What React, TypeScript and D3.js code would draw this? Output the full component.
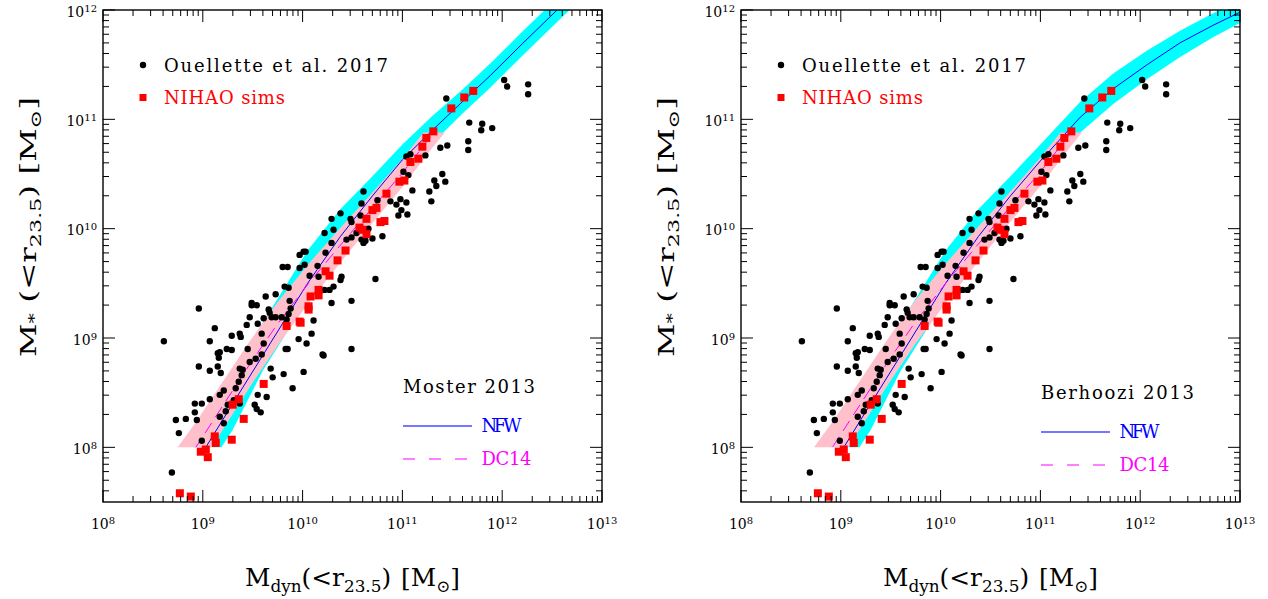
import * as d3 from "d3";
import React from "react";

// Ouellette et al. 2017 galaxies, log10 of mass in Msun
const ouelletteLogMdyn = [
  8.61, 8.96, 9.12, 9.07, 8.96, 9.07, 9.15, 9.17, 9.16, 9.24, 9.29, 9.29, 9.37, 9.38, 9.49, 9.49,
  9.54, 9.63, 9.73, 9.47, 9.44, 9.55, 9.59, 9.61, 9.66, 9.67, 9.69, 9.73, 9.79, 9.84, 9.86, 9.88,
  9.87, 9.86, 9.82, 9.8, 9.85, 9.97, 9.97, 10.01, 10.03, 10.02, 10.07, 10.15, 10.16, 10.22, 10.23,
  10.29, 10.31, 10.29, 10.38, 10.39, 10.38, 10.31, 10.27, 10.22, 10.29, 10.11, 10.09, 10.04, 9.96,
  10.01, 9.9, 9.81, 9.85, 9.83, 9.68, 9.7, 9.55, 9.64, 9.52, 9.54, 9.58, 9.45, 9.53, 9.61, 9.59,
  9.47, 9.37, 9.4, 9.39, 9.36, 9.33, 9.31, 9.37, 9.25, 9.23, 9.21, 9.17, 9.17, 9.21, 9.18, 9.15,
  9.07, 8.99, 8.92, 8.92, 8.94, 8.83, 8.73, 8.76, 8.99, 8.69, 10.2, 10.21, 10.49, 10.49, 10.73,
  10.61, 10.59, 10.58, 10.48, 10.49, 10.54, 10.49, 10.44, 10.59, 10.61, 10.63, 10.66, 10.7, 10.8,
  10.79, 10.75, 10.88, 10.94, 10.98, 10.96, 10.99, 11.04, 11.05, 11.01, 11.06, 11.1, 11.04, 11.08,
  11.23, 11.27, 11.29, 11.32, 11.34, 11.4, 11.43, 11.38, 11.45, 11.44, 11.66, 11.66, 11.67, 11.8,
  11.79, 11.9, 12.02, 12.05, 12.26, 12.26,
];
const ouelletteLogMstar = [
  8.97, 9.27, 9.09, 8.97, 8.74, 8.7, 8.86, 8.87, 8.82, 8.9, 8.89, 9.02, 9.04, 9.01, 9.32, 9.3,
  9.3, 9.38, 9.4, 9.19, 9.12, 9.13, 9.04, 9.18, 9.26, 9.23, 9.19, 9.19, 9.19, 9.17, 9.22, 9.27,
  9.34, 9.46, 9.47, 9.65, 9.65, 9.64, 9.76, 9.79, 9.79, 9.67, 9.57, 9.66, 9.56, 9.96, 9.78,
  10.09, 9.99, 9.87, 10.14, 9.56, 9.53, 9.47, 9.44, 9.44, 9.32, 9.16, 9.04, 8.95, 8.99,
  8.69, 8.54, 8.67, 8.9, 8.9, 8.72, 8.64, 8.48, 8.46, 8.39, 8.35, 8.32, 8.9, 8.81, 8.95, 8.85,
  8.78, 8.72, 8.71, 8.66, 8.6, 8.54, 8.43, 8.4, 8.39, 8.33, 8.22, 8.28, 8.48, 8.52, 8.68, 8.74,
  8.44, 8.4, 8.4, 8.32, 8.25, 8.26, 8.25, 8.13, 8.06, 7.77, 8.85, 8.84, 9.34, 8.9, 9.54,
  10.34, 10.23, 10.12, 10.09, 10.06, 9.96, 9.92, 9.9, 9.9, 9.87, 9.89, 10.0, 9.91, 9.93,
  10.06, 10.26, 10.25, 10.22, 10.27, 10.12, 10.17, 10.24, 10.13, 10.52, 10.49, 10.35, 10.66, 10.68,
  10.67, 10.34, 10.25, 10.44, 10.39, 10.5, 10.43, 10.74, 10.76, 11.19, 10.8, 10.72, 10.97, 10.96,
  10.9, 10.92, 11.36, 11.3, 11.32, 11.23,
];

// NIHAO simulations
const nihaoLogMdyn = [
  11.71, 11.62, 11.49, 11.31, 11.24, 11.2, 11.16, 11.08, 11.02, 10.97, 10.84, 10.74, 10.7, 10.82,
  10.78, 10.64, 10.57, 10.6, 10.64, 10.43, 10.35, 10.27, 10.23, 10.16, 10.16, 10.08, 10.06, 10.06,
  9.97, 9.98, 9.84, 9.61, 9.36, 9.3, 9.41, 9.12, 9.13, 9.29, 8.98, 9.03, 9.05, 8.77, 8.88,
];
const nihaoLogMstar = [
  11.26, 11.2, 11.1, 10.89, 10.83, 10.75, 10.64, 10.61, 10.44, 10.43, 10.32, 10.19, 10.17, 10.07,
  10.06, 10.09, 10.01, 9.99, 9.95, 9.8, 9.71, 9.57, 9.61, 9.44, 9.39, 9.38, 9.29, 9.26,
  9.15, 9.14, 9.11, 8.58, 8.44, 8.39, 8.26, 8.1, 8.04, 8.07, 7.96, 7.98, 7.91, 7.58, 7.55,
];

// abundance matching predictions (log10 Mdyn grid, log10 M* line, band edges)
const mosterNfwGrid = [8.9, 9.03, 9.3, 9.6, 10.05, 10.38, 10.7, 11.0, 11.3, 11.6, 11.88, 12.2, 12.55, 12.8];
const mosterNfw = [7.82, 8.0, 8.4, 8.84, 9.5, 9.93, 10.3, 10.63, 10.9, 11.16, 11.4, 11.69, 12.0, 12.22];
const mosterNfwHi = [8.04, 8.22, 8.68, 9.14, 9.8, 10.18, 10.48, 10.77, 11.03, 11.27, 11.51, 11.8, 12.11, 12.33];
const mosterNfwLo = [7.6, 7.78, 8.16, 8.7, 9.35, 9.76, 10.15, 10.5, 10.78, 11.05, 11.29, 11.58, 11.89, 12.11];

const behrooziNfwGrid = [8.9, 9.03, 9.3, 9.6, 10.05, 10.38, 10.7, 11.0, 11.4, 11.73, 12.07, 12.4, 12.73, 13.0, 13.2];
const behrooziNfw = [7.82, 8.0, 8.4, 8.84, 9.5, 9.93, 10.3, 10.62, 11.02, 11.28, 11.5, 11.7, 11.86, 11.98, 12.06];
const behrooziNfwHi = [8.04, 8.22, 8.68, 9.14, 9.8, 10.18, 10.48, 10.77, 11.16, 11.42, 11.63, 11.81, 11.97, 12.09, 12.17];
const behrooziNfwLo = [7.6, 7.78, 8.16, 8.7, 9.35, 9.76, 10.15, 10.47, 10.88, 11.14, 11.37, 11.57, 11.75, 11.88, 11.95];

const dc14Grid = [8.7, 8.93, 9.2, 9.47, 9.75, 10.06, 10.37, 10.68, 11.0, 11.3, 11.5];
const mosterDc14 = [7.7, 8.0, 8.38, 8.76, 9.13, 9.5, 9.84, 10.17, 10.51, 10.86, 11.08];
const mosterDc14Hi = [7.94, 8.23, 8.6, 8.97, 9.33, 9.68, 10.0, 10.31, 10.64, 10.98, 11.2];
const mosterDc14Lo = [7.46, 7.77, 8.16, 8.55, 8.93, 9.32, 9.68, 10.03, 10.38, 10.74, 10.96];
const behrooziDc14 = [7.72, 8.02, 8.4, 8.78, 9.15, 9.51, 9.85, 10.18, 10.52, 10.87, 11.09];
const behrooziDc14Hi = [7.96, 8.25, 8.62, 8.99, 9.35, 9.69, 10.01, 10.32, 10.65, 10.99, 11.21];
const behrooziDc14Lo = [7.48, 7.79, 8.18, 8.57, 8.95, 9.33, 9.69, 10.04, 10.39, 10.75, 10.97];

const dc14TopLog = 10.88;

const FONT = "'DejaVu Serif', serif";
const PW = 499;
const TOP = 10;
const BOTTOM = 502;

const panels = [
  {
    left: 103, model: "Moster 2013", modelLen: 132, legendDy: 0,
    nfwGrid: mosterNfwGrid, nfw: mosterNfw, nfwHi: mosterNfwHi, nfwLo: mosterNfwLo,
    dc14: mosterDc14, dc14Hi: mosterDc14Hi, dc14Lo: mosterDc14Lo,
  },
  {
    left: 741, model: "Berhoozi 2013", modelLen: 153, legendDy: 6,
    nfwGrid: behrooziNfwGrid, nfw: behrooziNfw, nfwHi: behrooziNfwHi, nfwLo: behrooziNfwLo,
    dc14: behrooziDc14, dc14Hi: behrooziDc14Hi, dc14Lo: behrooziDc14Lo,
  },
];

const p10 = (v: number) => Math.pow(10, v);
const isDecade = (v: number) => Math.abs(Math.log10(v) - Math.round(Math.log10(v))) < 1e-6;

function Panel({ p, idx }: { p: (typeof panels)[number]; idx: number }) {
  const x = d3.scaleLog().domain([1e8, 1e13]).range([p.left, p.left + PW]);
  const y = d3.scaleLog().domain([p10(7.5), 1e12]).range([BOTTOM, TOP]);

  const band = (grid: number[], lo: number[], hi: number[]) =>
    d3
      .area<number>()
      .x((g) => x(p10(g)))
      .y0((_, i) => y(p10(lo[i])))
      .y1((_, i) => y(p10(hi[i])))(grid) || "";
  const line = (grid: number[], vals: number[]) =>
    d3
      .line<number>()
      .x((g) => x(p10(g)))
      .y((_, i) => y(p10(vals[i])))(grid) || "";

  const y8 = y(1e8);
  const yTop = y(p10(dc14TopLog));
  const right = p.left + PW;
  const cx = p.left + PW / 2;

  const xt = x.ticks();
  const yt = y.ticks();

  return (
    <g>
      <defs>
        <clipPath id={`cyan${idx}`}>
          <rect x={p.left} y={TOP} width={PW} height={y8 - TOP} />
        </clipPath>
        <clipPath id={`pink${idx}`}>
          <rect x={p.left} y={yTop} width={PW} height={y8 - yTop} />
        </clipPath>
      </defs>

      <g clipPath={`url(#cyan${idx})`}>
        <path d={band(p.nfwGrid, p.nfwLo, p.nfwHi)} fill="#00ffff" />
      </g>
      <g clipPath={`url(#pink${idx})`}>
        <path d={band(dc14Grid, p.dc14Lo, p.dc14Hi)} fill="#ffc0cb" />
      </g>
      <g clipPath={`url(#cyan${idx})`}>
        <path d={line(p.nfwGrid, p.nfw)} fill="none" stroke="#0000ff" strokeWidth={1} />
      </g>
      <g clipPath={`url(#pink${idx})`}>
        <path d={line(dc14Grid, p.dc14)} fill="none" stroke="#ff00ff" strokeWidth={1} strokeDasharray="12,7" />
      </g>

      {ouelletteLogMdyn.map((m, i) => (
        <circle key={`o${i}`} cx={x(p10(m))} cy={y(p10(ouelletteLogMstar[i]))} r={3.2} fill="#000" />
      ))}
      {nihaoLogMdyn.map((m, i) => (
        <rect key={`n${i}`} x={x(p10(m)) - 4} y={y(p10(nihaoLogMstar[i])) - 4} width={8} height={8} fill="#ff0000" />
      ))}

      {/* ticks on all four sides */}
      {xt.map((t, i) => {
        const len = isDecade(t) ? 12 : 6;
        const xx = x(t);
        return (
          <g key={`xt${i}`} stroke="#000" strokeWidth={1}>
            <line x1={xx} x2={xx} y1={BOTTOM} y2={BOTTOM - len} />
            <line x1={xx} x2={xx} y1={TOP} y2={TOP + len} />
          </g>
        );
      })}
      {yt.map((t, i) => {
        const len = isDecade(t) ? 12 : 6;
        const yy = y(t);
        return (
          <g key={`yt${i}`} stroke="#000" strokeWidth={1}>
            <line x1={p.left} x2={p.left + len} y1={yy} y2={yy} />
            <line x1={right} x2={right - len} y1={yy} y2={yy} />
          </g>
        );
      })}
      <rect x={p.left} y={TOP} width={PW} height={BOTTOM - TOP} fill="none" stroke="#000" strokeWidth={1.4} />

      {xt.filter(isDecade).map((t, i) => (
        <text key={`xl${i}`} x={x(t)} y={529} textAnchor="middle" fontFamily={FONT} fontSize={14}>
          10<tspan dy={-5} fontSize={10}>{Math.round(Math.log10(t))}</tspan>
        </text>
      ))}
      {yt.filter(isDecade).map((t, i) => (
        <text key={`yl${i}`} x={p.left - 6} y={y(t) + 6.5} textAnchor="end" fontFamily={FONT} fontSize={14}>
          10<tspan dy={-5} fontSize={10}>{Math.round(Math.log10(t))}</tspan>
        </text>
      ))}

      {/* axis titles */}
      <text x={cx} y={586} textAnchor="middle" fontFamily={FONT} fontSize={25} textLength={215} lengthAdjust="spacingAndGlyphs">
        M<tspan dy={6} fontSize={17}>dyn</tspan>
        <tspan dy={-6}>(&lt;r</tspan>
        <tspan dy={6} fontSize={17}>23.5</tspan>
        <tspan dy={-6}>)</tspan>
        <tspan dx={10}>[M</tspan>
        <tspan dy={6} fontSize={17}>⊙</tspan>
        <tspan dy={-6}>]</tspan>
      </text>
      <text
        transform={`translate(${p.left - 67},227) rotate(-90)`}
        textAnchor="middle"
        fontFamily={FONT}
        fontSize={22}
        textLength={260}
        lengthAdjust="spacingAndGlyphs"
      >
        M<tspan dy={3} fontSize={14}>*</tspan>
        <tspan dy={-3}> (&lt;r</tspan>
        <tspan dy={5} fontSize={15}>23.5</tspan>
        <tspan dy={-5}>) [M</tspan>
        <tspan dy={5} fontSize={15}>⊙</tspan>
        <tspan dy={-5}>]</tspan>
      </text>

      {/* legends */}
      <circle cx={p.left + 40} cy={65} r={3.2} fill="#000" />
      <text x={p.left + 61} y={72} fontFamily={FONT} fontSize={18} textLength={224} lengthAdjust="spacing">
        Ouellette et al. 2017
      </text>
      <rect x={p.left + 36.5} y={94} width={7} height={7} fill="#ff0000" />
      <text x={p.left + 61} y={104} fontFamily={FONT} fontSize={18} fill="#ff0000" textLength={121} lengthAdjust="spacing">
        NIHAO sims
      </text>

      <text x={p.left + 300} y={393 + p.legendDy} fontFamily={FONT} fontSize={18} textLength={p.modelLen} lengthAdjust="spacing">
        {p.model}
      </text>
      <line x1={p.left + 300} x2={p.left + 369} y1={426 + p.legendDy} y2={426 + p.legendDy} stroke="#4848ff" strokeWidth={1.4} />
      <text x={p.left + 378.5} y={432 + p.legendDy} fontFamily={FONT} fontSize={18} fill="#0000ff" textLength={40} lengthAdjust="spacing">
        NFW
      </text>
      <line
        x1={p.left + 300}
        x2={p.left + 369}
        y1={459 + p.legendDy}
        y2={459 + p.legendDy}
        stroke="#ff00ff"
        strokeWidth={1.2}
        strokeDasharray="12,14"
      />
      <text x={p.left + 378.5} y={465 + p.legendDy} fontFamily={FONT} fontSize={18} fill="#ff00ff" textLength={50} lengthAdjust="spacing">
        DC14
      </text>
    </g>
  );
}

export default function App() {
  return (
    <svg
      width={1268}
      height={599}
      viewBox="0 0 1268 599"
      style={{ position: "absolute", left: 0, top: 0, background: "#fff" }}
    >
      <rect width={1268} height={599} fill="#fff" />
      {panels.map((p, i) => (
        <Panel key={i} p={p} idx={i} />
      ))}
    </svg>
  );
}
